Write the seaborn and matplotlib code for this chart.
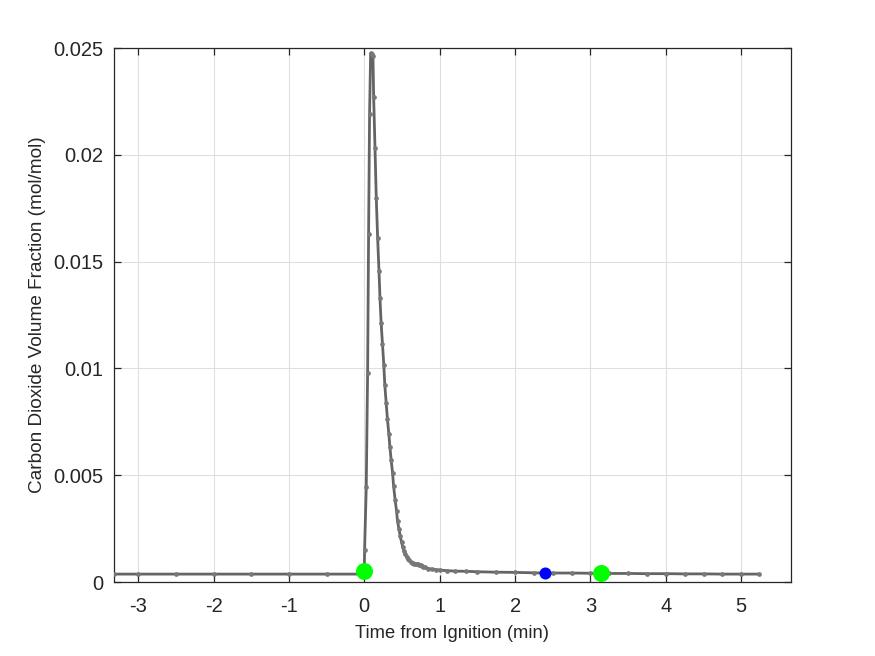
import matplotlib
matplotlib.use("Agg")
import matplotlib.pyplot as plt
import seaborn as sns
import pandas as pd

# ---- data ----
time_min = [-3.32, -3.0, -2.5, -2.0, -1.5, -1.0, -0.5, -0.02,
            0.0, 0.004, 0.026, 0.044, 0.057, 0.070, 0.084, 0.100, 0.115, 0.124,
            0.142, 0.159, 0.177, 0.195, 0.208, 0.223, 0.241, 0.259, 0.272, 0.290,
            0.307, 0.326, 0.340, 0.357, 0.375, 0.388, 0.410, 0.428, 0.441, 0.460,
            0.477, 0.494, 0.511, 0.528, 0.545, 0.562, 0.579, 0.596, 0.613, 0.630,
            0.647, 0.664, 0.681, 0.698, 0.715, 0.732, 0.749, 0.766, 0.783, 0.80,
            0.85, 0.90, 0.95, 1.0, 1.1, 1.2, 1.35, 1.5, 1.75, 2.0, 2.25, 2.5,
            2.75, 3.0, 3.25, 3.5, 3.75, 4.0, 4.25, 4.5, 4.75, 5.0, 5.24]
co2_frac = [0.00037, 0.00037, 0.00037, 0.00037, 0.00037, 0.00037, 0.00037, 0.00037,
            0.00051, 0.00151, 0.00446, 0.00979, 0.01627, 0.02192, 0.02475, 0.02470, 0.02463, 0.02272,
            0.02032, 0.01797, 0.01610, 0.01456, 0.01329, 0.01214, 0.01115, 0.01015, 0.00923, 0.00839,
            0.00762, 0.00692, 0.00630, 0.00569, 0.00511, 0.00451, 0.00382, 0.00331, 0.00284, 0.00248,
            0.00214, 0.00186, 0.00163, 0.00145, 0.00130, 0.00118, 0.00109, 0.00101, 0.00095, 0.00090,
            0.00087, 0.00085, 0.00084, 0.00083, 0.00082, 0.00080, 0.00078, 0.00075, 0.00072, 0.00068,
            0.00063, 0.00060, 0.00058, 0.00056, 0.00053, 0.00051, 0.00050, 0.00048, 0.00046, 0.00045, 0.00043, 0.00042,
            0.00042, 0.00041, 0.00040, 0.00040, 0.00039, 0.00039, 0.00038, 0.00038, 0.00037, 0.00037, 0.00037]

green_t = [0.0, 3.14]
green_v = [0.00051, 0.00041]
blue_t = [2.40]
blue_v = [0.00041]

x_ticks = [-3, -2, -1, 0, 1, 2, 3, 4, 5]
y_ticks = [0, 0.005, 0.01, 0.015, 0.02, 0.025]
y_tick_labels = ["0", "0.005", "0.01", "0.015", "0.02", "0.025"]
x_label = "Time from Ignition (min)"
y_label = "Carbon Dioxide Volume Fraction (mol/mol)"

# ---- plot ----
sns.set_style("white")
plt.rcParams['font.family'] = ['Liberation Sans', 'DejaVu Sans']

fig = plt.figure(figsize=(8.75, 6.56), dpi=100)
ax = fig.add_axes([114/875, 74/656, (791-114)/875, (582-48)/656])

df = pd.DataFrame({"t": time_min, "v": co2_frac})
sns.lineplot(data=df, x="t", y="v", ax=ax, color="#646464", linewidth=2.0,
             marker="o", markersize=3.4, markeredgewidth=0,
             markerfacecolor="#787878", estimator=None, sort=False, zorder=3)

sns.scatterplot(x=green_t, y=green_v, ax=ax, color="#00ff00", s=150,
                linewidth=0, zorder=5)
sns.scatterplot(x=blue_t, y=blue_v, ax=ax, color="#0000ff", s=75,
                linewidth=0, zorder=5)

ax.set_xlim(-3.32, 5.66)
ax.set_ylim(0, 0.025)
ax.set_xticks(x_ticks)
ax.set_xticklabels([str(v) for v in x_ticks])
ax.set_yticks(y_ticks)
ax.set_yticklabels(y_tick_labels)

ax.grid(True, color="#dfdfdf", linewidth=0.8)
ax.set_axisbelow(True)
for s in ax.spines.values():
    s.set_color("#262626")
    s.set_linewidth(0.9)
    s.set_visible(True)

ax.tick_params(axis="both", direction="in", length=5, width=0.9,
               color="#262626", labelcolor="#262626", labelsize=14.5,
               top=True, right=True, bottom=True, left=True)
ax.tick_params(axis="x", pad=11)
ax.tick_params(axis="y", pad=8)

ax.set_xlabel(x_label, fontsize=13.2, color="#262626", labelpad=6)
ax.set_ylabel(y_label, fontsize=13.7, color="#262626", labelpad=5)

fig.savefig("out.png", dpi=100, facecolor="white")
